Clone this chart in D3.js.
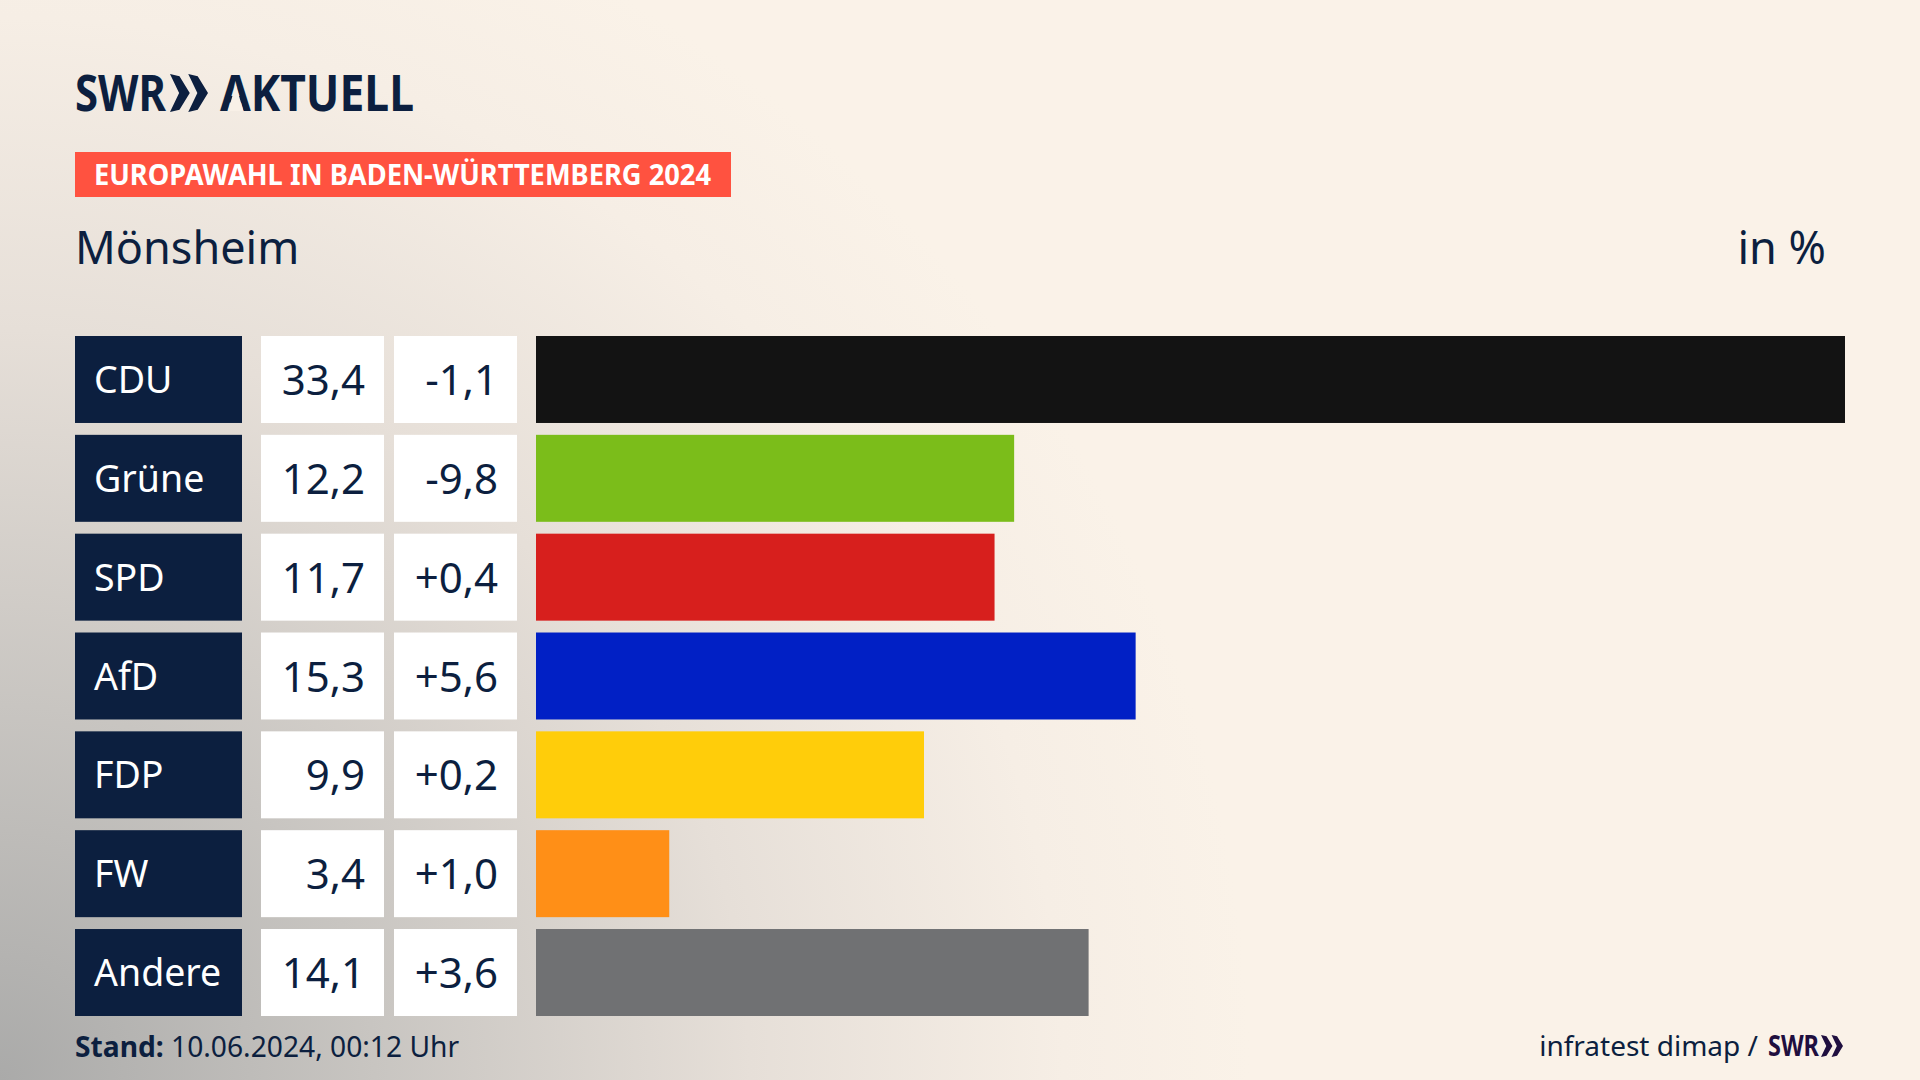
<!DOCTYPE html>
<html lang="de">
<head>
<meta charset="utf-8">
<title>Europawahl Mönsheim</title>
<script src="https://cdn.jsdelivr.net/npm/d3@7"></script>
<style>
  html, body { margin: 0; padding: 0; background: #faf2e8; }
  svg { display: block; }
  text { font-family: "Noto Sans", sans-serif; fill: #0c1f3f; }
</style>
</head>
<body>
<div id="root"></div>
<script>
const parties = ['CDU', 'Grüne', 'SPD', 'AfD', 'FDP', 'FW', 'Andere'];
const shares = [33.4, 12.2, 11.7, 15.3, 9.9, 3.4, 14.1];
const changes = [-1.1, -9.8, 0.4, 5.6, 0.2, 1.0, 3.6];
const barColors = ['#131313', '#7bbd1a', '#d71f1d', '#0120c5', '#ffcd0a', '#ff8f17', '#707173'];

const width = 1920, height = 1080;
const navy = '#0c1f3f';

let svg = d3.select('#root').append('svg')
  .attr('width', width)
  .attr('height', height);

// background, cream with the grey glow out of the lower left corner
let defs = svg.append('defs');
let glow = defs.append('radialGradient')
  .attr('id', 'glow')
  .attr('gradientUnits', 'userSpaceOnUse')
  .attr('cx', 0).attr('cy', 0).attr('r', 1)
  .attr('gradientTransform', `translate(0,${height}) scale(1250,1250)`);
glow.selectAll('stop')
  .data([[0, '#aaaaa9'], [0.3, '#c8c5c1'], [0.6, '#e6dfd8'], [0.85, '#f6eee5'], [1, '#faf2e8']])
  .enter().append('stop')
  .attr('offset', d => d[0])
  .attr('stop-color', d => d[1]);
svg.append('rect').attr('width', width).attr('height', height).attr('fill', 'url(#glow)');

// scales
let y = d3.scaleBand().domain(parties).range([336, 1016]).paddingInner(0.12);
let x = d3.scaleLinear().domain([0, 33.4]).range([536, 1845]);

let de = d3.formatLocale({decimal: ',', thousands: '.', grouping: [3], currency: ['', '€'], minus: '-'});
let fmtShare = de.format('.1f');
let fmtChange = de.format('+.1f');

function chevrons(x0, y0, w, h) {
  let one = (ox) => `M${ox},${y0}L${ox + w * 0.25},${y0 + h * 0.06}L${ox + w * 0.52},${y0 + h / 2}L${ox + w * 0.25},${y0 + h * 0.94}L${ox},${y0 + h}L${ox + w * 0.24},${y0 + h / 2}Z`;
  return one(x0) + one(x0 + w * 0.48);
}

// header logo
let logo = svg.append('g');
logo.append('text').text('SWR')
  .attr('x', 75).attr('y', 110.5)
  .attr('textLength', 91).attr('lengthAdjust', 'spacingAndGlyphs')
  .attr('font-size', 50).attr('font-weight', 700);
logo.append('path')
  .attr('d', chevrons(170, 74, 38, 38))
  .attr('fill', navy);
logo.append('text').text('AKTUELL')
  .attr('x', 220).attr('y', 110.5)
  .attr('textLength', 194).attr('lengthAdjust', 'spacingAndGlyphs')
  .attr('font-size', 50).attr('font-weight', 700);
// the wordmark's A has no crossbar
logo.append('path')
  .attr('d', 'M228,111L243.5,111L235.7,85Z')
  .attr('fill', '#f8f0e7');

// topic tag
svg.append('rect')
  .attr('x', 75).attr('y', 152)
  .attr('width', 656).attr('height', 45)
  .attr('fill', '#ff5240');
svg.append('text').text('EUROPAWAHL IN BADEN-WÜRTTEMBERG 2024')
  .attr('x', 94).attr('y', 184.5)
  .attr('font-size', 28).attr('font-weight', 700)
  .attr('textLength', 617).attr('lengthAdjust', 'spacingAndGlyphs')
  .style('fill', '#fff');

svg.append('text').text('Mönsheim')
  .attr('x', 75).attr('y', 264)
  .attr('font-size', 45);
svg.append('text').text('in %')
  .attr('x', 1826).attr('y', 264)
  .attr('text-anchor', 'end')
  .attr('font-size', 45);

// rows
let rows = svg.selectAll('g.row')
  .data(parties.map((p, i) => ({party: p, share: shares[i], change: changes[i], color: barColors[i]})))
  .enter().append('g')
  .attr('class', 'row')
  .attr('transform', d => `translate(0,${y(d.party)})`);

let h = y.bandwidth();

rows.append('rect')
  .attr('x', 75).attr('width', 167).attr('height', h)
  .attr('fill', navy);
rows.append('text')
  .text(d => d.party)
  .attr('x', 94).attr('y', 57)
  .attr('font-size', 37.5)
  .style('fill', '#fff');

rows.append('rect')
  .attr('x', 261).attr('width', 123).attr('height', h)
  .attr('fill', '#fff');
rows.append('text')
  .text(d => fmtShare(d.share))
  .attr('x', 365).attr('y', 59)
  .attr('text-anchor', 'end')
  .attr('font-size', 42);

rows.append('rect')
  .attr('x', 394).attr('width', 123).attr('height', h)
  .attr('fill', '#fff');
rows.append('text')
  .text(d => fmtChange(d.change))
  .attr('x', 498).attr('y', 59)
  .attr('text-anchor', 'end')
  .attr('font-size', 42);

rows.append('rect')
  .attr('x', x(0))
  .attr('width', d => x(d.share) - x(0))
  .attr('height', h)
  .attr('fill', d => d.color);

// footer
let stand = svg.append('text')
  .attr('x', 75).attr('y', 1057)
  .attr('font-size', 28.2);
stand.append('tspan').attr('font-weight', 700).text('Stand:');
stand.append('tspan').text(' 10.06.2024, 00:12 Uhr');

svg.append('text').text('infratest dimap /')
  .attr('x', 1758).attr('y', 1056)
  .attr('text-anchor', 'end')
  .attr('font-size', 28);
svg.append('text').text('SWR')
  .attr('x', 1768).attr('y', 1056)
  .attr('textLength', 51).attr('lengthAdjust', 'spacingAndGlyphs')
  .attr('font-size', 28).attr('font-weight', 700)
  .style('fill', '#1f0f3f');
svg.append('path')
  .attr('d', chevrons(1821, 1035, 22, 22))
  .attr('fill', '#1f0f3f');
</script>
</body>
</html>
